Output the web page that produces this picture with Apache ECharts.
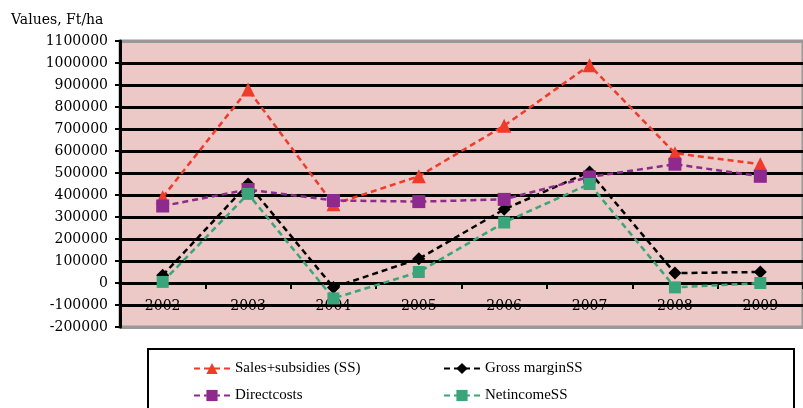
<!DOCTYPE html>
<html>
<head>
<meta charset="utf-8">
<script src="https://cdn.jsdelivr.net/npm/echarts@6/dist/echarts.min.js"></script>
<style>html,body{margin:0;padding:0;background:#fff}#c{width:803px;height:408px}</style>
</head>
<body>
<div id="c"></div>
<script>
const categories = ['2002','2003','2004','2005','2006','2007','2008','2009'];
const salesSubsidies = [390000, 880000, 358000, 485000, 715000, 990000, 590000, 540000];
const grossMargin = [35000, 450000, -20000, 110000, 335000, 505000, 45000, 50000];
const directCosts = [350000, 425000, 375000, 370000, 380000, 482000, 540000, 485000];
const netIncome = [5000, 405000, -70000, 50000, 275000, 450000, -20000, 0];
const seriesNames = ['Sales+subsidies (SS)', 'Gross marginSS', 'Directcosts', 'NetincomeSS'];
const yTitle = 'Values, Ft/ha';

const font = 'Liberation Serif';
const wideFont = 'DejaVu Serif';
const chart = echarts.init(document.getElementById('c'));
const splitColors = [];
for (let i = 0; i < 14; i++) splitColors.push(i === 0 || i === 13 ? '#999999' : '#000000');

function mk(name, data, color, symbol, size) {
  return {
    name, type: 'line', data, symbol, symbolSize: size, xAxisIndex: 0,
    lineStyle: { color, width: 2.5, type: [6, 4] },
    itemStyle: { color },
    animation: false
  };
}
function leg(name, left, top) {
  return {
    data: [name], left, top, itemWidth: 36, itemHeight: 14, itemGap: 6,
    textStyle: { fontFamily: font, fontSize: 15, color: '#000' }
  };
}
chart.setOption({
  backgroundColor: '#fff',
  title: { text: yTitle, left: 6, top: 8, textStyle: { fontFamily: wideFont, fontSize: 14, fontWeight: 'normal', color: '#000' } },
  graphic: [{ type: 'rect', shape: { x: 148, y: 349, width: 646, height: 64 }, style: { fill: '#fff', stroke: '#000', lineWidth: 2 }, z: -1 }],
  legend: [
    leg(seriesNames[0], 188, 356),
    leg(seriesNames[1], 438, 356),
    leg(seriesNames[2], 188, 383),
    leg(seriesNames[3], 438, 383)
  ],
  grid: { left: 120, right: -5, top: 41, bottom: 81, show: true, backgroundColor: '#ECC8C6', borderColor: '#999999', borderWidth: 3 },
  xAxis: [{
    type: 'category', data: categories, boundaryGap: true,
    axisLine: { onZero: true, lineStyle: { color: '#000', width: 3 } },
    axisTick: { show: true, length: 6, lineStyle: { color: '#000', width: 2 } },
    axisLabel: { show: false }
  }, {
    type: 'category', data: categories, boundaryGap: true, position: 'bottom',
    axisLine: { show: false, onZero: false },
    axisTick: { show: false },
    axisLabel: { margin: -28, fontFamily: wideFont, fontSize: 14, color: '#000' }
  }],
  yAxis: {
    type: 'value', min: -200000, max: 1100000, interval: 100000,
    axisLine: { show: true, lineStyle: { color: '#000', width: 3 } },
    axisTick: { show: true, length: 5, lineStyle: { color: '#000', width: 2 } },
    axisLabel: { margin: 12, fontFamily: wideFont, fontSize: 14, color: '#000', formatter: v => String(v) },
    splitLine: { show: true, lineStyle: { color: splitColors, width: 3 } }
  },
  series: [
    mk(seriesNames[0], salesSubsidies, '#F03A2A', 'triangle', 14),
    mk(seriesNames[1], grossMargin, '#000000', 'diamond', 13),
    mk(seriesNames[2], directCosts, '#8E2A8E', 'rect', 13),
    mk(seriesNames[3], netIncome, '#3AA57A', 'rect', 12)
  ]
});
</script>
</body>
</html>
